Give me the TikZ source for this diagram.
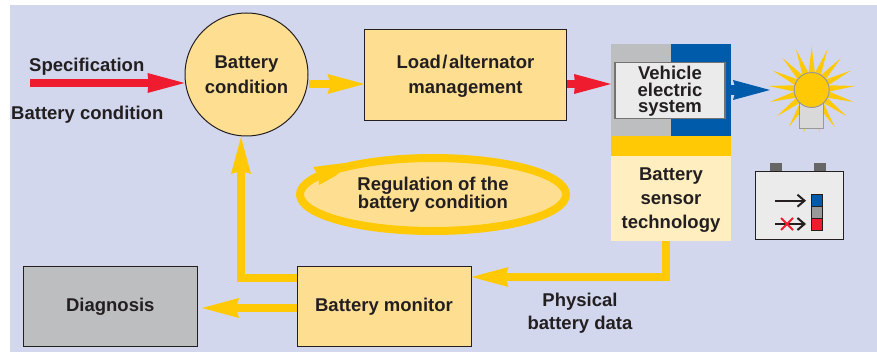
\documentclass[tikz,border=0pt]{standalone}
\usepackage{fontspec}
\setmainfont{Liberation Sans}[BoldFont={Liberation Sans Bold}]
\usetikzlibrary{arrows.meta,calc}
\definecolor{bgc}{HTML}{D3D7EE}
\definecolor{sand}{HTML}{FEDF92}
\definecolor{cream}{HTML}{FFEFC0}
\definecolor{amber}{HTML}{FFCA05}
\definecolor{alarm}{HTML}{EE1C2E}
\definecolor{royal}{HTML}{005BAA}
\definecolor{midgray}{HTML}{BDBEC0}
\definecolor{ink}{HTML}{231F20}
\tikzset{
  lbl/.style={font=\fontsize{18.5}{18}\selectfont\bfseries,text=ink,align=center,inner sep=0pt},
  lblb/.style={lbl,font=\fontsize{18.5}{16.5}\selectfont\bfseries},
  boxy/.style={draw=ink,line width=1pt,fill=sand,minimum width=#1,inner sep=0pt,lbl},
  ya/.style={draw=amber,line width=8pt,-{Stealth[inset=3pt,length=37pt,width=20pt,line width=0pt]}},
  ra/.style={draw=alarm,line width=8pt,-{Stealth[inset=1pt,length=37pt,width=20pt,line width=0pt]}},
  ba/.style={draw=royal,line width=10pt,-{Stealth[inset=3pt,length=37pt,width=20pt,line width=0pt]}},
  ka/.style={draw=ink,line width=2pt,-{Straight Barb[length=7pt,width=12pt]}},
}
\begin{document}
\begin{tikzpicture}[x=1pt,y=-1pt]
\useasboundingbox (0,0) rectangle (877,352);
\fill[white] (0,0) rectangle (877,352);
\fill[bgc] (10,5) rectangle (877,352);
% nodes
\node[draw=ink,line width=1pt,fill=sand,circle,minimum size=123pt,inner sep=0pt,lbl] (cond) at (246.5,74.5) {Battery\\[7pt]condition};
\node[boxy=202pt,minimum height=91pt] (load) at (465.5,75.5) {\rule{0pt}{15.5pt}Load\hspace{1.5pt}/\hspace{1.5pt}alternator\\[7pt]management};
% vehicle block
\fill[midgray] (611,44) rectangle (671,136);
\fill[royal] (671,44) rectangle (731,136);
\fill[amber] (611,136) rectangle (731,156);
\node[fill=cream,minimum width=120pt,minimum height=85pt,inner sep=0pt,lbl] (sensor) at (671,198.5) {\rule{0pt}{16.5pt}Battery\\[6pt]sensor\\[6pt]technology};
\node[draw=black!55,line width=1.2pt,fill=black!8,minimum width=110pt,minimum height=56pt,inner sep=0pt,lblb] (veh) at (670,90.5) {\rule{0pt}{15.5pt}Vehicle\\electric\\system};
\coordinate (vehin) at (611,84);
\coordinate (vehout) at (731,90);
\node[boxy=174pt,minimum height=79.5pt] (mon) at (384,306.7) {\raisebox{-1pt}{Battery monitor}};
\node[boxy=174pt,minimum height=79.5pt,fill=midgray] (diag) at (110.3,306.7) {\raisebox{-1pt}{Diagnosis}};
% labels
\node[lbl,anchor=west] (spec) at (29,66.5) {Specification};
\node[lbl,anchor=west] (bc) at (11,115) {Battery condition};
\node[lbl] (phys) at (580,301.5) {Physical};
\node[lbl] (pdata) at (580,325) {battery data};
% regulation ellipse
\draw[amber,line width=8pt,fill=sand] (433,194.5) ellipse (133pt and 36.5pt);
\fill[amber] (313,167) -- (345,163) -- (337,175) -- (319,185) -- (318,175) -- cycle;
\node[lblb] (reg) at (433,195) {Regulation of the\\battery condition};
% connectors
\coordinate (spin) at (30,83);
\draw[ra] (spin) -- (184.5,83);
\draw[ya] (309,84) -- (364.5,84);
\draw[ra] (load.east |- vehin) -- (vehin);
\draw[ba] (vehout) -- (770,90);
\draw[ya] (666,241) -- (666,277) -- (471.5,277);
\draw[ya] (297,278) -- (241,278) -- (241,137);
\draw[ya] (297,308) -- (202,308);
% bulb
\foreach \a in {0,1,...,16}{
  \fill[amber] ($(811.7,90)+(90+\a*21.176:43.5pt)$) -- ($(811.7,90)+(90+\a*21.176+15:14pt)$) -- ($(811.7,90)+(90+\a*21.176-15:14pt)$) -- cycle;
}
\draw[black!40,line width=1pt,fill=black!15] (799.5,100) rectangle (823,129);
\draw[black!40,line width=1pt,fill=amber] (811.7,90) circle (17.5pt);
% battery icon
\fill[black!60] (770,163) rectangle (782,172);
\fill[black!60] (814,163) rectangle (826,172);
\draw[ink,line width=1pt,fill=black!8] (755,172) rectangle (843,240);
\draw[ink,line width=.6pt,fill=royal] (811.7,194.5) rectangle (822.3,206.5);
\draw[ink,line width=.6pt,fill=black!40] (811.7,206.5) rectangle (822.3,218.5);
\draw[ink,line width=.6pt,fill=alarm] (811.7,218.5) rectangle (822.3,230);
\draw[ka] (775,200.7) -- (806,200.7);
\draw[ka] (775,224) -- (806,224);
\draw[alarm,line width=2pt] (781,218) -- (793,230) (793,218) -- (781,230);
\end{tikzpicture}
\end{document}
